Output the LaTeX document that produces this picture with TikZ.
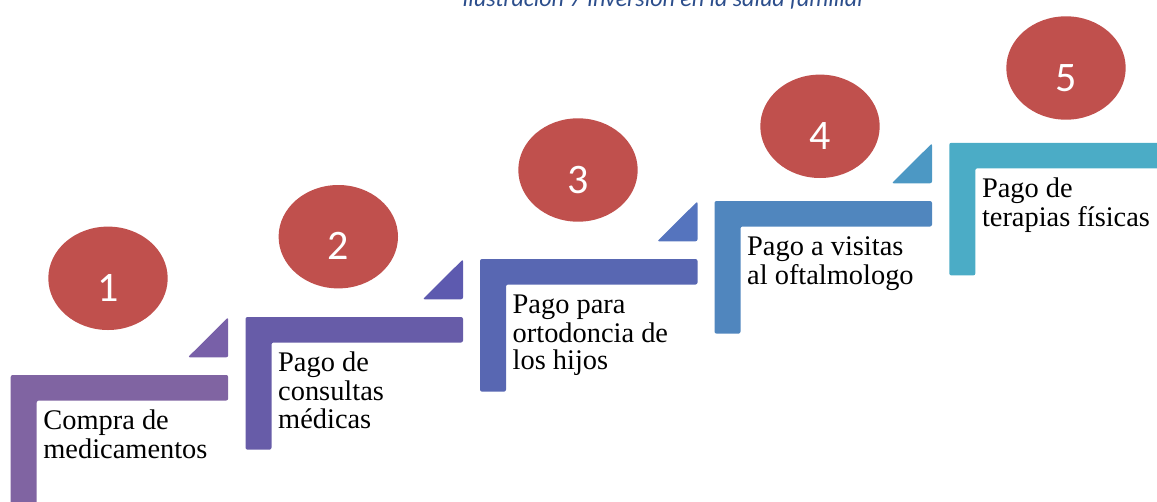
\documentclass[tikz,border=0pt]{standalone}
\usepackage{fontspec}
\usetikzlibrary{shapes.geometric}
\newfontfamily\digitfont{Carlito}
\newfontfamily\capfont{Carlito}
\newfontfamily\stepfont{Liberation Serif}
\definecolor{s1}{RGB}{128,100,162}
\definecolor{s2}{RGB}{103,92,168}
\definecolor{s3}{RGB}{88,103,178}
\definecolor{s4}{RGB}{80,134,190}
\definecolor{s5}{RGB}{75,172,198}
\definecolor{t1}{RGB}{120,96,168}
\definecolor{t2}{RGB}{93,90,175}
\definecolor{t3}{RGB}{85,116,190}
\definecolor{t4}{RGB}{76,152,196}
\definecolor{circred}{RGB}{192,80,77}
\definecolor{capblue}{RGB}{44,78,140}
\tikzset{
  circ/.style={ellipse, fill=circred, minimum width=119.4pt, minimum height=103.4pt, inner sep=0pt},
  digit/.style={font=\digitfont\fontsize{42}{42}\selectfont, text=white, anchor=base, inner sep=0pt},
  steptext/.style={font=\stepfont\fontsize{28.4}{27.5}\selectfont, align=left, anchor=north west, inner sep=0pt, text=black},
  captext/.style={font=\capfont\itshape\fontsize{24}{24}\selectfont, text=capblue, anchor=base, inner sep=0pt}
}
\begin{document}
\begin{tikzpicture}[x=1pt,y=-1pt]
\useasboundingbox (0,0) rectangle (1157,501);
\clip (0,0) rectangle (1157,501);
\foreach \L/\T/\c in {10.7/375/s1, 245.5/317/s2, 480/259/s3, 714.5/201/s4, 949.3/142.8/s5}{
  \fill[\c, rounded corners=2pt] (\L,\T) -- ++(217.5,0) -- ++(0,25.5) -- ++(-191.5,0) -- ++(0,107.1) -- ++(-26,0) -- cycle;
}
\foreach \L/\T/\t in {10.7/375/t1, 245.5/317/t2, 480/259/t3, 714.5/201/t4}{
  \fill[\t, rounded corners=2pt] (\L+177.2,\T-17.7) -- (\L+217.5,\T-57.7) -- (\L+217.5,\T-17.7) -- cycle;
}
\node[steptext] (txt1) at (43.2,410.0) {\strut Compra de\\medicamentos};
\node[steptext] (txt2) at (278.0,352.0) {\strut Pago de\\consultas\\médicas};
\node[steptext] (txt3) at (512.5,294.0) {\strut Pago para\\ortodoncia de\\los hijos};
\node[steptext] (txt4) at (747.0,236.0) {\strut Pago a visitas\\al oftalmologo};
\node[steptext] (txt5) at (981.8,177.8) {\strut Pago de\\terapias físicas};
\node[circ] (c1) at (108,278.3) {};
\node[circ] (c2) at (338.3,236.7) {};
\node[circ] (c3) at (578,170) {};
\node[circ] (c4) at (820,126.3) {};
\node[circ] (c5) at (1066,68) {};
\node[digit] (d1) at ([yshift=-23pt]c1.center) {1};
\node[digit] (d2) at ([yshift=-23pt]c2.center) {2};
\node[digit] (d3) at ([yshift=-23pt]c3.center) {3};
\node[digit] (d4) at ([yshift=-23pt]c4.center) {4};
\node[digit] (d5) at ([yshift=-23pt]c5.center) {5};
\node[captext] (cap) at (664,6) {Ilustración 7 Inversión en la salud familiar};
\end{tikzpicture}
\end{document}
